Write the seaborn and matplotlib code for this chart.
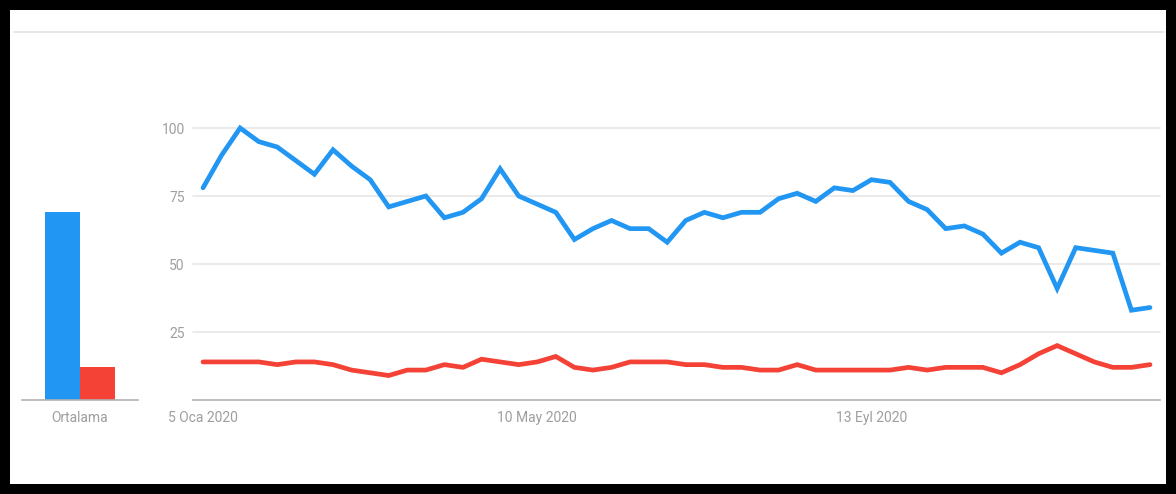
import matplotlib
matplotlib.use("Agg")
import matplotlib.pyplot as plt
import seaborn as sns
import pandas as pd
from matplotlib.patches import Rectangle
from matplotlib.lines import Line2D

# ---- data ----
weeks = list(range(52))
blue_vals = [78, 90, 100, 95, 93, 88, 83, 92, 86, 81, 71, 73, 75, 67, 69, 74, 85, 75, 72, 69,
             59, 63, 66, 63, 63, 58, 66, 69, 67, 69, 69, 74, 76, 73, 78, 77, 81, 80, 73, 70,
             63, 64, 61, 54, 58, 56, 41, 56, 55, 54, 33, 34]
red_vals = [14, 14, 14, 14, 13, 14, 14, 13, 11, 10, 9, 11, 11, 13, 12, 15, 14, 13, 14, 16,
            12, 11, 12, 14, 14, 14, 13, 13, 12, 12, 11, 11, 13, 11, 11, 11, 11, 11, 12, 11,
            12, 12, 12, 10, 13, 17, 20, 17, 14, 12, 12, 13]
avg_labels = ["Ortalama", "Ortalama"]
avg_series = ["s1", "s2"]
avg_vals = [69, 12]
xtick_pos = [0, 18, 36]
xtick_labels = ["5 Oca 2020", "10 May 2020", "13 Eyl 2020"]
ytick_vals = [25, 50, 75, 100]

BLUE = "#2196F3"
RED = "#F44336"
GRID = "#e6e6e6"
BASE = "#b0b0b0"
TXT = "#9e9e9e"

sns.set_style("white")
plt.rcParams['font.family'] = ['Roboto', 'DejaVu Sans']

W, H = 1176, 494
fig = plt.figure(figsize=(W / 100, H / 100), dpi=100)

def fx(px):
    return px / W

def fy(py):
    return 1 - py / H

ybot = fy(400)
ytop = fy(128)

# ---- average bar panel ----
axb = fig.add_axes([fx(22), ybot, fx(138) - fx(22), ytop - ybot])
dfb = pd.DataFrame({"cat": avg_labels, "series": avg_series, "val": avg_vals})
sns.barplot(data=dfb, x="cat", y="val", hue="series", palette=[BLUE, RED],
            width=0.6, legend=False, ax=axb, saturation=1, linewidth=0)
axb.set_ylim(0, 100)
axb.set_xlim(-0.5, 0.5)
axb.set_xlabel("")
axb.set_ylabel("")
axb.set_yticks([])
axb.tick_params(axis="x", length=0, labelsize=10, labelcolor=TXT, pad=8)
for s in ["top", "left", "right"]:
    axb.spines[s].set_visible(False)
axb.spines["bottom"].set_color(BASE)
axb.spines["bottom"].set_linewidth(1.2)

# ---- line chart ----
axl = fig.add_axes([fx(193), ybot, fx(1160) - fx(193), ytop - ybot])
df = pd.DataFrame({"week": weeks + weeks,
                   "val": blue_vals + red_vals,
                   "series": ["s1"] * len(weeks) + ["s2"] * len(weeks)})
for y in ytick_vals:
    axl.axhline(y, color=GRID, lw=1.2, zorder=0, clip_on=False)
sns.lineplot(data=df, x="week", y="val", hue="series", palette=[BLUE, RED],
             linewidth=3.4, legend=False, ax=axl, clip_on=False)
for ln in axl.lines:
    ln.set_clip_on(False)
    ln.set_solid_joinstyle("miter")
axl.set_xlim(-0.54, 51.54)
axl.set_ylim(0, 100)
axl.set_xlabel("")
axl.set_ylabel("")
axl.set_xticks(xtick_pos)
axl.set_xticklabels(xtick_labels)
axl.set_yticks(ytick_vals)
axl.set_yticklabels([str(v) for v in ytick_vals])
axl.tick_params(axis="both", length=0, labelsize=10, labelcolor=TXT)
axl.tick_params(axis="x", pad=8)
axl.tick_params(axis="y", pad=6)
for s in ["top", "left", "right"]:
    axl.spines[s].set_visible(False)
axl.spines["bottom"].set_color(BASE)
axl.spines["bottom"].set_linewidth(1.2)
axl.grid(False)

# ---- card separator and black frame ----
fig.add_artist(Line2D([fx(14), fx(1164)], [fy(32), fy(32)], color="#e3e3e3", lw=1.2))
fig.add_artist(Rectangle((0, 0), 1, 1, transform=fig.transFigure, fill=False,
                         edgecolor="black", linewidth=14.4))

fig.savefig("out.png", dpi=100)
